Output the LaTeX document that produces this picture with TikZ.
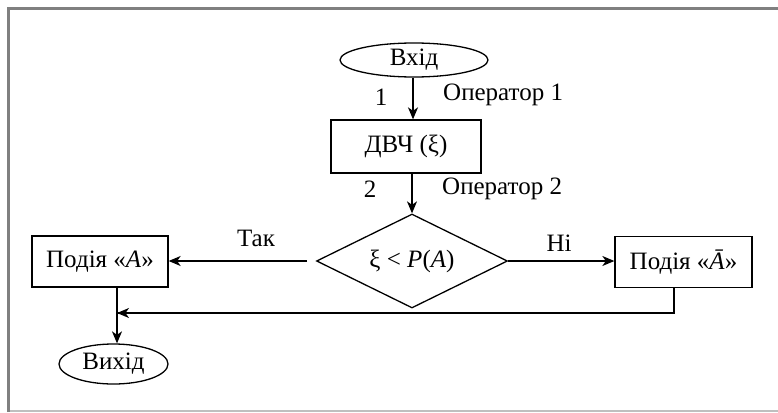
\documentclass[tikz,border=0pt]{standalone}
\usepackage{fontspec}
\setmainfont{Liberation Serif}
\usetikzlibrary{shapes.geometric,arrows.meta}
\begin{document}
\begin{tikzpicture}[x=1pt,y=-1pt,
  every node/.style={font=\fontsize{25}{28}\selectfont, inner sep=0pt},
  conn/.style={line width=1.3pt, draw=black},
  arr/.style={conn, -{Stealth[length=12pt,width=10pt,inset=3.5pt]}},
  boxnode/.style={draw, line width=1.3pt, rectangle, minimum width=#1, minimum height=51pt},
  term/.style={draw, line width=1.3pt, ellipse},
  dec/.style={draw, line width=1.3pt, diamond, minimum width=191pt, minimum height=94pt}]
\useasboundingbox (0,0) rectangle (778,412);
% frame
\draw[line width=3pt, draw=black!50] (8.5,412) -- (8.5,8.5) -- (778,8.5);
\draw[line width=2pt, draw=black!25] (10,411) -- (778,411);
% nodes
\node[term, minimum width=148pt, minimum height=34pt] (in) at (414,60) {Вхід};
\node[boxnode=150pt, minimum height=53pt] (dvch) at (406,146.5) {ДВЧ (ξ)};
\node[dec] (dia) at (412,261) {};
\node (diatext) at (412,261) {ξ < \textit{P}(\textit{A})};
\node[boxnode=136pt] (left) at (100,261.5) {Подія «\textit{A}»};
\node[boxnode=137pt] (right) at (683.5,262) {Подія «\textit{Ā}»};
\node[term, minimum width=109pt, minimum height=40pt] (out) at (113.5,364) {Вихід};
% labels
\node (l1) at (381,97) {1};
\node[anchor=west] (op1) at (443,95) {Оператор 1};
\node (l2) at (370,189) {2};
\node[anchor=west] (op2) at (442,189) {Оператор 2};
\node (tak) at (256,238) {Так};
\node (ni) at (559,243) {Ні};
% connectors
\coordinate (c1) at (413,0);
\coordinate (tstart) at (307,261);
\coordinate (rb) at (674,0);
\coordinate (lb) at (117,0);
\coordinate (mergeY) at (0,313);
\draw[arr] (c1 |- in.south) -- (c1 |- dvch.north);
\draw[arr] (dia.north |- dvch.south) -- (dia.north);
\draw[arr] (tstart) -- (left.east |- tstart);
\draw[arr] (dia.east) -- (right.west |- dia.east);
\draw[conn] (rb |- right.south) -- (rb |- mergeY) -- (lb |- mergeY);
\draw[arr] (rb |- mergeY) -- (lb |- mergeY);
\draw[arr] (lb |- left.south) -- (lb |- out.north);
\end{tikzpicture}
\end{document}
